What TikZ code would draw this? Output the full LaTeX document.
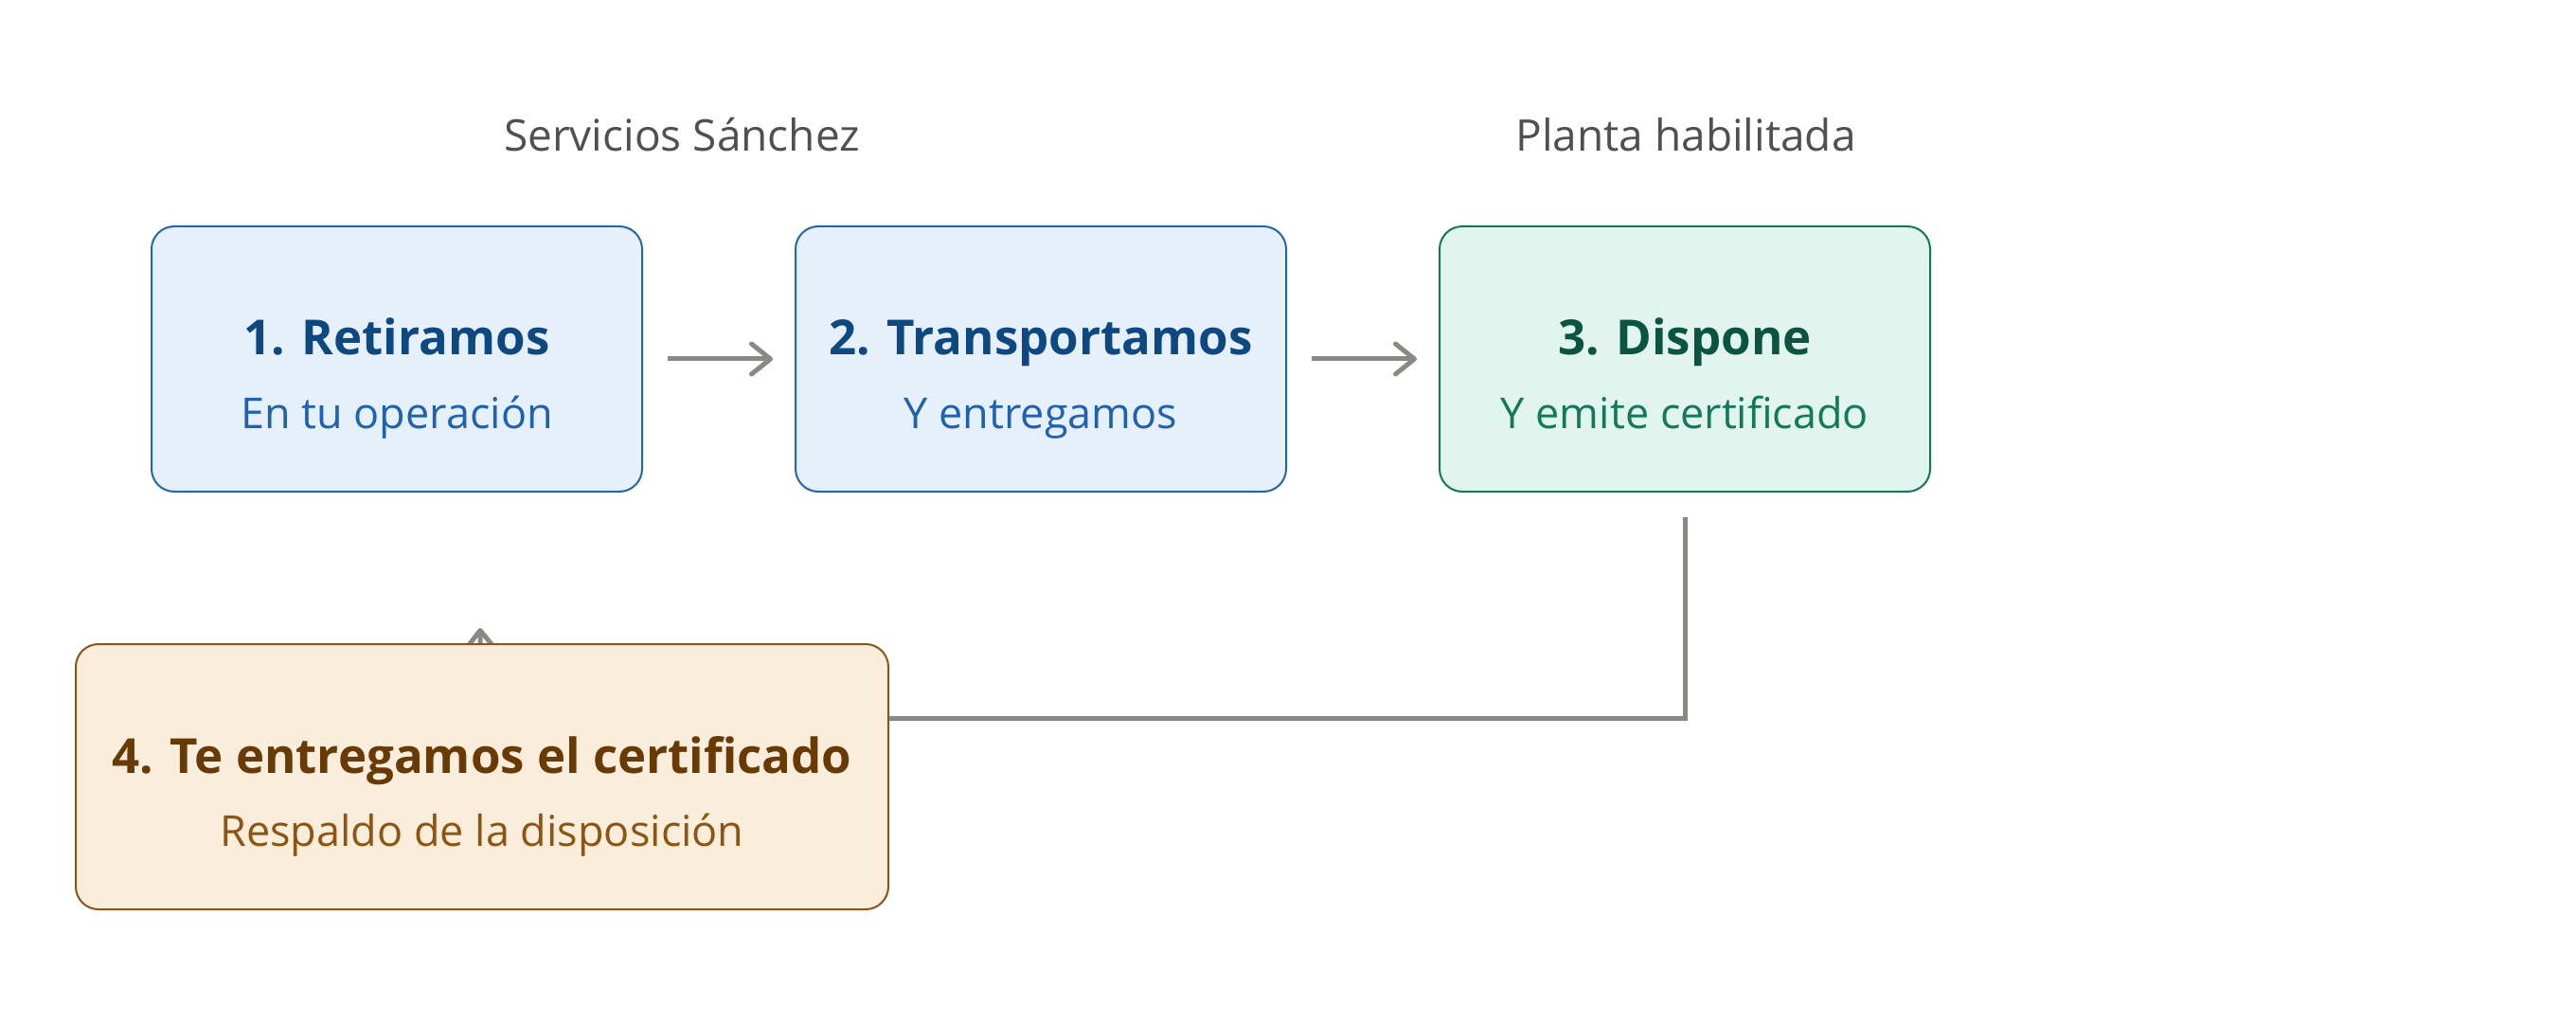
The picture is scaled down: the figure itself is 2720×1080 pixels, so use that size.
\documentclass[tikz,border=0pt]{standalone}
\usepackage{fontspec}
\setmainfont{Open Sans}
\usetikzlibrary{arrows.meta,backgrounds}
\definecolor{bfill}{HTML}{E6F0FA}
\definecolor{bdraw}{HTML}{2266AE}
\definecolor{btitle}{HTML}{0D4880}
\definecolor{bsub}{HTML}{2063AC}
\definecolor{gfill}{HTML}{E1F4EE}
\definecolor{gdraw}{HTML}{13785A}
\definecolor{gtitle}{HTML}{0B5540}
\definecolor{gsub}{HTML}{13795A}
\definecolor{ofill}{HTML}{FAEDDB}
\definecolor{odraw}{HTML}{8A5414}
\definecolor{otitle}{HTML}{683A06}
\definecolor{osub}{HTML}{8C5512}
\definecolor{conncol}{HTML}{8A8A84}
\definecolor{labcol}{HTML}{505050}
\tikzset{
  stepbox/.style={rounded corners=12pt, line width=1pt, minimum width=259pt, minimum height=140pt, inner sep=0pt},
  bluebox/.style={stepbox, draw=bdraw, fill=bfill},
  greenbox/.style={stepbox, draw=gdraw, fill=gfill},
  orangebox/.style={stepbox, draw=odraw, fill=ofill, minimum width=429pt},
  titletext/.style={anchor=base, inner sep=0pt, font=\fontsize{25.5pt}{30pt}\selectfont\bfseries},
  subtext/.style={anchor=base, inner sep=0pt, font=\fontsize{22.5pt}{26pt}\selectfont},
  labtext/.style={anchor=base, inner sep=0pt, text=labcol, font=\fontsize{23pt}{26pt}\selectfont},
  conn/.style={draw=conncol, line width=2.5pt},
  arr/.style={conn, -{Straight Barb[round,length=10pt,width=16pt]}}
}
\begin{document}
\begin{tikzpicture}[x=0.5pt,y=-0.5pt]
\useasboundingbox (0,0) rectangle (2720,1080);
\node[bluebox] (b1) at (419,379) {};
\node[bluebox] (b2) at (1099,379) {};
\node[greenbox] (b3) at (1779,379) {};
\node[orangebox] (b4) at (509,820) {};
\node[titletext, text=btitle] (t1) at (419,375) {1. Retiramos};
\node[subtext, text=bsub] (s1) at (419,452) {En tu operación};
\node[titletext, text=btitle] (t2) at (1099,375) {2. Transportamos};
\node[subtext, text=bsub] (s2) at (1099,452) {Y entregamos};
\node[titletext, text=gtitle] (t3) at (1779,375) {3. Dispone};
\node[subtext, text=gsub] (s3) at (1779,452) {Y emite certificado};
\node[titletext, text=otitle] (t4) at (509,816) {4. Te entregamos el certificado};
\node[subtext, text=osub] (s4) at (509,893) {Respaldo de la disposición};
\node[labtext] (l1) at (720,160) {Servicios Sánchez};
\node[labtext] (l2) at (1780,160) {Planta habilitada};
\coordinate (tip4) at (507,663);
\draw[arr, shorten <=13pt, shorten >=11.5pt] (b1.east) -- (b2.west);
\draw[arr, shorten <=13pt, shorten >=11.5pt] (b2.east) -- (b3.west);
\draw[conn, shorten <=13pt] (b3.south) |- ([yshift=31pt]b4.east);
\begin{scope}[on background layer]
\draw[arr] (b4.center) -- (tip4);
\end{scope}
\end{tikzpicture}
\end{document}
